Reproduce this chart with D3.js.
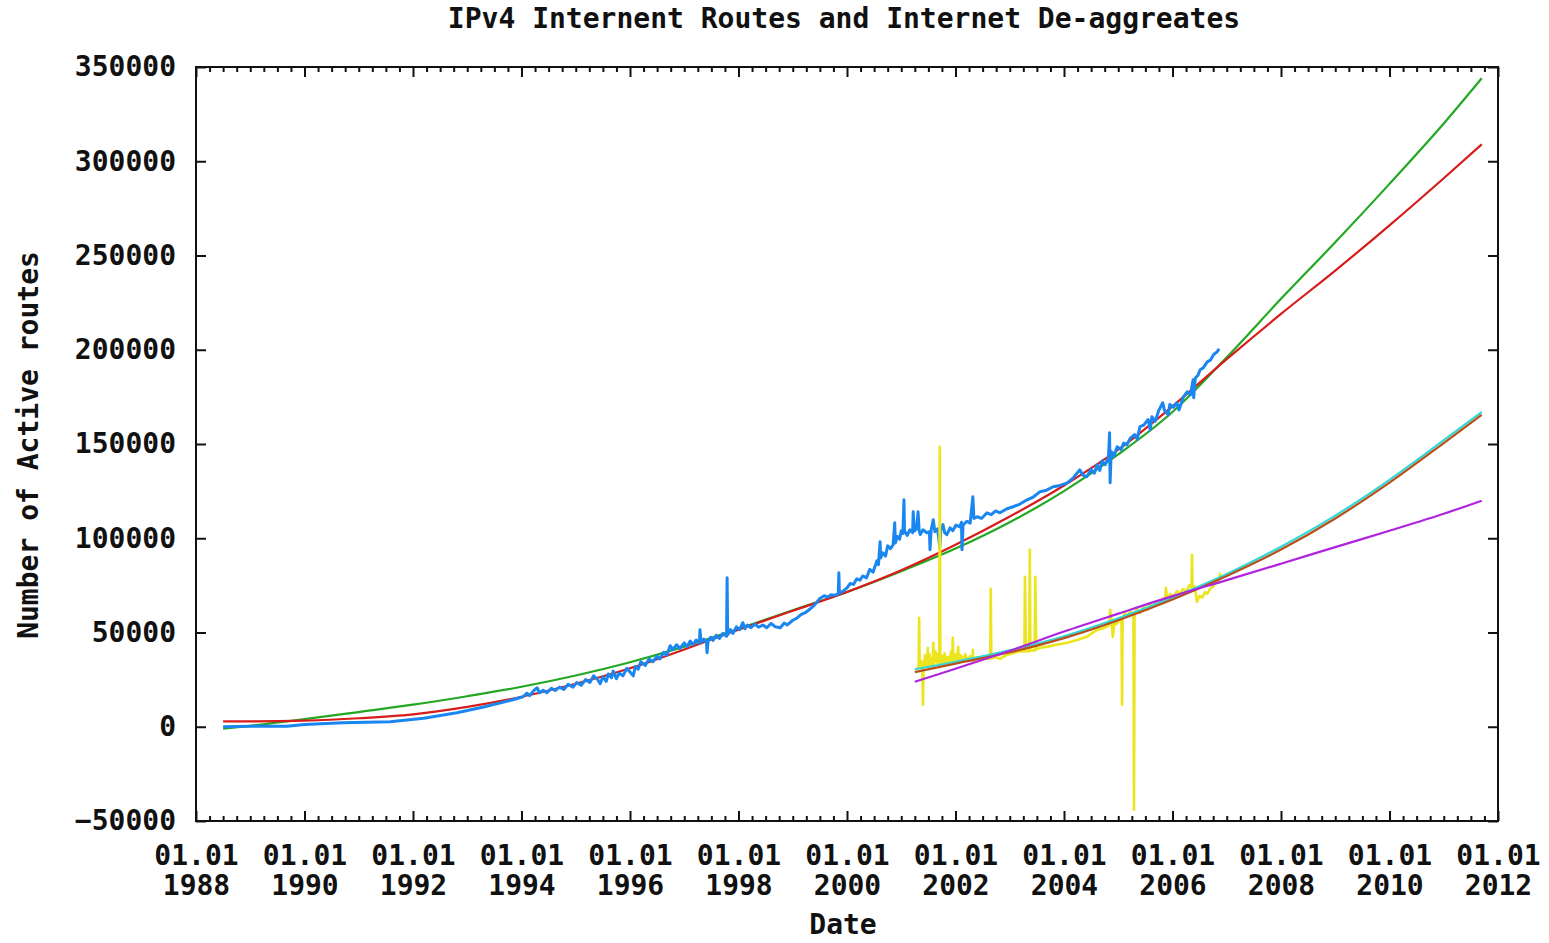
<!DOCTYPE html>
<html>
<head>
<meta charset="utf-8">
<script src="https://cdn.jsdelivr.net/npm/d3@7"></script>
<style>
  body { margin: 0; background: #fff; }
  svg text { font-family: "DejaVu Sans Mono", monospace; font-weight: bold; font-size: 28px; fill: #111; }
</style>
</head>
<body>
<svg id="svg"></svg>
<script>
// tick labels
const yearTicks = [1988, 1990, 1992, 1994, 1996, 1998, 2000, 2002, 2004, 2006, 2008, 2010, 2012];
const valueTicks = [-50000, 0, 50000, 100000, 150000, 200000, 250000, 300000, 350000];

// blue: active routes (year, routes)
const activeRoutes = [
  [1988.50, 0], [1989.00, 200], [1989.68, 300], [1990.00, 1200], [1990.71, 2100],
  [1991.58, 2700], [1992.20, 4500], [1992.81, 7400], [1993.30, 10500], [1993.84, 14300],
  [1994.03, 15900], [1994.10, 17800], [1994.15, 16500], [1994.22, 19000], [1994.29, 20700],
  [1994.33, 18000], [1994.40, 19300], [1994.47, 18000], [1994.55, 20400], [1994.62, 19200],
  [1994.70, 21000], [1994.78, 19800], [1994.86, 22500], [1994.95, 21000], [1995.02, 23500],
  [1995.10, 22000], [1995.18, 25000], [1995.26, 23500], [1995.33, 27000], [1995.40, 25200],
  [1995.45, 22800], [1995.50, 26500], [1995.56, 24000], [1995.60, 28000], [1995.66, 26000],
  [1995.69, 29500], [1995.75, 25500], [1995.80, 28500], [1995.87, 27000], [1995.94, 31000],
  [1996.00, 29000], [1996.06, 27000], [1996.10, 32000], [1996.15, 30500], [1996.20, 34500],
  [1996.28, 32500], [1996.35, 36000], [1996.42, 34500], [1996.50, 37500], [1996.55, 36000],
  [1996.62, 39500], [1996.68, 38000], [1996.74, 43000], [1996.79, 41000], [1996.86, 43500],
  [1996.92, 41500], [1997.00, 44500], [1997.05, 42500], [1997.11, 45500], [1997.16, 43500],
  [1997.22, 46000], [1997.28, 44500], [1997.29, 51500], [1997.31, 44800], [1997.36, 46500],
  [1997.41, 45000], [1997.42, 39300], [1997.44, 45500], [1997.49, 47500], [1997.53, 45800],
  [1997.59, 48500], [1997.65, 46800], [1997.71, 49500], [1997.78, 48000], [1997.79, 79000],
  [1997.80, 48800], [1997.85, 51500], [1997.90, 49500], [1997.96, 53000], [1998.02, 51500],
  [1998.08, 55200], [1998.12, 52000], [1998.16, 54000], [1998.23, 52500], [1998.30, 54500],
  [1998.37, 52800], [1998.45, 54000], [1998.52, 52500], [1998.60, 54800], [1998.68, 53000],
  [1998.77, 52500], [1998.84, 55000], [1998.90, 54000], [1999.00, 56500], [1999.07, 57500],
  [1999.15, 59500], [1999.23, 60500], [1999.32, 62500], [1999.40, 64500], [1999.50, 68000],
  [1999.58, 69500], [1999.65, 68800], [1999.70, 70000], [1999.78, 69800], [1999.84, 70500],
  [1999.85, 81700], [1999.86, 70800], [1999.93, 72000], [2000.00, 73700], [2000.06, 76000],
  [2000.12, 75500], [2000.18, 78500], [2000.24, 77800], [2000.29, 80000], [2000.36, 79000],
  [2000.42, 83500], [2000.48, 82000], [2000.55, 88000], [2000.58, 86000], [2000.61, 98100],
  [2000.62, 89500], [2000.66, 92300], [2000.71, 90500], [2000.75, 96000], [2000.80, 94500],
  [2000.85, 96500], [2000.88, 108200], [2000.89, 97500], [2000.93, 101000], [2000.97, 99500],
  [2001.00, 104000], [2001.03, 102500], [2001.05, 120400], [2001.06, 104000], [2001.11, 101500],
  [2001.16, 104500], [2001.21, 103000], [2001.22, 114100], [2001.24, 103800], [2001.28, 105000],
  [2001.31, 114100], [2001.33, 104000], [2001.35, 102000], [2001.40, 104500], [2001.47, 102900],
  [2001.52, 103500], [2001.53, 93900], [2001.55, 104200], [2001.59, 109800], [2001.62, 103400],
  [2001.67, 105000], [2001.71, 95500], [2001.73, 104500], [2001.77, 107200], [2001.80, 103000],
  [2001.84, 101900], [2001.90, 105500], [2001.95, 104000], [2002.01, 107000], [2002.08, 106000],
  [2002.11, 108500], [2002.12, 93900], [2002.14, 107000], [2002.21, 109000], [2002.27, 108000],
  [2002.32, 122000], [2002.34, 110500], [2002.40, 111400], [2002.48, 110500], [2002.58, 113500],
  [2002.66, 112500], [2002.74, 114500], [2002.82, 113500], [2002.94, 115500], [2003.06, 116700],
  [2003.18, 118000], [2003.32, 120400], [2003.44, 122000], [2003.56, 124700], [2003.68, 125500],
  [2003.80, 127300], [2003.93, 128000], [2004.06, 129400], [2004.17, 132000], [2004.29, 136300],
  [2004.35, 133500], [2004.42, 132600], [2004.50, 136500], [2004.56, 134500], [2004.61, 139000],
  [2004.66, 136000], [2004.70, 141000], [2004.76, 139000], [2004.82, 143000], [2004.84, 156000],
  [2004.85, 129400], [2004.87, 146000], [2004.92, 143500], [2004.98, 148500], [2005.05, 147000],
  [2005.10, 150500], [2005.16, 149500], [2005.22, 153000], [2005.30, 155000], [2005.35, 152500],
  [2005.40, 159200], [2005.47, 160000], [2005.55, 163000], [2005.59, 157600], [2005.62, 164500],
  [2005.68, 162000], [2005.75, 168000], [2005.82, 171900], [2005.85, 168000], [2005.92, 165500],
  [2005.95, 171000], [2006.02, 169500], [2006.08, 171900], [2006.12, 168000], [2006.20, 175000],
  [2006.27, 177700], [2006.33, 176000], [2006.38, 184100], [2006.39, 174500], [2006.42, 185000],
  [2006.47, 186500], [2006.51, 189400], [2006.57, 190500], [2006.64, 193600], [2006.70, 194500],
  [2006.76, 197500], [2006.82, 198900], [2006.86, 200500]
];

// yellow: de-aggregates (year, routes)
const deaggregates = [
  [2001.29, 31800], [2001.32, 31500], [2001.33, 57800], [2001.34, 32000], [2001.37, 35000],
  [2001.39, 31000], [2001.40, 11700], [2001.41, 30500], [2001.44, 38000], [2001.46, 33000],
  [2001.48, 32000], [2001.49, 41900], [2001.50, 31500], [2001.52, 38500], [2001.54, 33000],
  [2001.56, 36500], [2001.58, 32000], [2001.59, 44600], [2001.60, 32500], [2001.63, 40000],
  [2001.66, 34000], [2001.68, 38500], [2001.70, 33000], [2001.71, 148500], [2001.72, 33000],
  [2001.75, 37500], [2001.78, 33500], [2001.80, 39000], [2001.83, 34000], [2001.86, 37000],
  [2001.89, 34500], [2001.92, 40000], [2001.94, 35000], [2001.95, 47200], [2001.96, 34000],
  [2001.99, 38500], [2002.02, 34500], [2002.05, 42400], [2002.06, 34500], [2002.10, 38000],
  [2002.14, 35000], [2002.18, 38500], [2002.22, 35000], [2002.27, 37500], [2002.31, 35000],
  [2002.32, 40800], [2002.33, 35200], [2002.40, 37000], [2002.45, 36000], [2002.52, 37500],
  [2002.58, 36000], [2002.64, 36500], [2002.65, 73200], [2002.66, 36200], [2002.74, 37000],
  [2002.82, 36000], [2002.94, 38000], [2003.06, 39000], [2003.16, 40000], [2003.27, 40000],
  [2003.28, 79600], [2003.30, 40200], [2003.36, 40000], [2003.37, 93900], [2003.38, 40500],
  [2003.46, 40500], [2003.47, 79600], [2003.49, 41000], [2003.56, 41900], [2003.70, 42500],
  [2003.86, 43500], [2004.06, 44600], [2004.24, 46000], [2004.42, 47700], [2004.53, 49900],
  [2004.62, 51500], [2004.70, 52000], [2004.79, 53100], [2004.84, 54000], [2004.85, 62100],
  [2004.88, 54500], [2004.90, 47700], [2004.93, 55500], [2004.97, 54500], [2005.03, 56800],
  [2005.06, 57000], [2005.07, 11700], [2005.08, 57500], [2005.12, 60500], [2005.16, 58400],
  [2005.22, 61000], [2005.28, 59500], [2005.29, -44000], [2005.30, 60000], [2005.35, 62500],
  [2005.40, 60500], [2005.47, 63500], [2005.53, 62000], [2005.58, 65000], [2005.64, 63700],
  [2005.70, 66500], [2005.76, 65000], [2005.82, 68000], [2005.86, 66000], [2005.88, 73700],
  [2005.90, 67400], [2005.96, 70500], [2006.02, 69000], [2006.08, 72000], [2006.14, 70500],
  [2006.19, 73000], [2006.26, 72000], [2006.31, 75000], [2006.35, 74000], [2006.36, 91200],
  [2006.37, 73500], [2006.41, 74500], [2006.45, 66300], [2006.50, 69500], [2006.55, 68500],
  [2006.60, 71500], [2006.64, 70500], [2006.70, 73500], [2006.75, 74500], [2006.80, 77500],
  [2006.85, 76500], [2006.88, 81700]
];

// fitted curves (year, routes)
const fitGreen = [
  [1988.5, -1000], [1989, 500], [1990, 4000], [1991, 7800], [1992, 11700], [1993, 16200],
  [1994, 21200], [1995, 27200], [1996, 34200], [1997, 42500], [1998, 52000], [1999, 61800],
  [2000, 71500], [2001, 82500], [2002, 94500], [2003, 108500], [2004, 125000], [2005, 144500],
  [2006, 167000], [2007, 196000], [2008, 227000], [2009, 257000], [2010, 288000],
  [2011, 320000], [2011.7, 344000]
];
const fitRed = [
  [1988.5, 2800], [1989, 2800], [1990, 3200], [1991, 4500], [1992, 6600], [1993, 10500],
  [1994, 15900], [1995, 22800], [1996, 31000], [1997, 41000], [1998, 51500], [1999, 61500],
  [2000, 71500], [2001, 83000], [2002, 96500], [2003, 111500], [2004, 128000], [2005, 147000],
  [2006, 170000], [2007, 195000], [2008, 219000], [2009, 242000], [2010, 266000],
  [2011, 291000], [2011.7, 309000]
];
const fitCyan = [
  [2001.25, 30500], [2002, 34500], [2003, 40500], [2004, 48000], [2005, 57500], [2006, 68500],
  [2007, 81000], [2008, 95500], [2009, 112000], [2010, 131000], [2011, 152000], [2011.7, 167000]
];
const fitBrown = [
  [2001.25, 29000], [2002, 33500], [2003, 39500], [2004, 47000], [2005, 56500], [2006, 67500],
  [2007, 80000], [2008, 94000], [2009, 110500], [2010, 129500], [2011, 150500], [2011.7, 165500]
];
const fitPurple = [
  [2001.25, 23900], [2002, 30800], [2003, 40300], [2004, 50500], [2005, 60000], [2006, 69300],
  [2007, 77800], [2008, 86500], [2009, 95300], [2010, 104000], [2011, 113000], [2011.7, 119900]
];

const w = 1549;
const h = 943;
const margin = { top: 67, right: 51, bottom: 122, left: 196 };

let svg = d3.select("#svg")
  .attr("width", w)
  .attr("height", h);

const xScale = d3.scaleLinear().domain([1988, 2012]).range([margin.left, w - margin.right]);
const yScale = d3.scaleLinear().domain([-50000, 350000]).range([h - margin.bottom, margin.top]);

// quarterly minor ticks
let minorTicks = [];
for (let y = 1988; y < 2012; y += 0.25) {
  if (y % 2 !== 0) minorTicks.push(y);
}

// minor x ticks, bottom and top
svg.append("g")
  .attr("transform", "translate(0," + (h - margin.bottom) + ")")
  .call(d3.axisBottom(xScale).tickValues(minorTicks).tickSize(-5).tickSizeOuter(0).tickFormat(""));
svg.append("g")
  .attr("transform", "translate(0," + margin.top + ")")
  .call(d3.axisTop(xScale).tickValues(minorTicks).tickSize(-5).tickSizeOuter(0).tickFormat(""));

// major x ticks with two line labels
let xAxis = svg.append("g")
  .attr("class", "x-axis")
  .attr("transform", "translate(0," + (h - margin.bottom) + ")")
  .call(d3.axisBottom(xScale).tickValues(yearTicks).tickSize(-10).tickSizeOuter(0).tickPadding(24));
xAxis.selectAll("text").each(function(d) {
  let t = d3.select(this).text(null);
  t.append("tspan").attr("x", 0).text("01.01");
  t.append("tspan").attr("x", 0).attr("dy", 30).text(d);
});
svg.append("g")
  .attr("transform", "translate(0," + margin.top + ")")
  .call(d3.axisTop(xScale).tickValues(yearTicks).tickSize(-10).tickSizeOuter(0).tickFormat(""));

// y ticks, left with labels, right mirrored
svg.append("g")
  .attr("class", "y-axis")
  .attr("transform", "translate(" + margin.left + ",0)")
  .call(d3.axisLeft(yScale).tickValues(valueTicks).tickSize(-10).tickSizeOuter(0).tickPadding(20).tickFormat(d3.format("d")));
svg.append("g")
  .attr("transform", "translate(" + (w - margin.right) + ",0)")
  .call(d3.axisRight(yScale).tickValues(valueTicks).tickSize(-10).tickSizeOuter(0).tickFormat(""));

svg.selectAll(".domain").remove();
svg.selectAll(".tick line").attr("stroke", "#111").attr("stroke-width", 2);
svg.selectAll(".tick text").attr("fill", "#111").style("font-size", "28px");

// frame
svg.append("rect")
  .attr("x", margin.left)
  .attr("y", margin.top)
  .attr("width", w - margin.left - margin.right)
  .attr("height", h - margin.top - margin.bottom)
  .attr("fill", "none")
  .attr("stroke", "#111")
  .attr("stroke-width", 2);

const smooth = d3.line().x(d => xScale(d[0])).y(d => yScale(d[1])).curve(d3.curveMonotoneX);
const raw = d3.line().x(d => xScale(d[0])).y(d => yScale(d[1]));

function drawLine(data, gen, colour, width) {
  svg.append("path")
    .datum(data)
    .attr("d", gen)
    .attr("fill", "none")
    .attr("stroke", colour)
    .attr("stroke-width", width)
    .attr("stroke-linejoin", "round");
}

drawLine(fitGreen, smooth, "#22a822", 2.2);
drawLine(fitRed, smooth, "#d81c1c", 2.2);
drawLine(activeRoutes, raw, "#1a86f0", 3);
drawLine(deaggregates, raw, "#ece41c", 2.6);
drawLine(fitCyan, smooth, "#30d8d8", 2.2);
drawLine(fitBrown, smooth, "#b8501c", 2.2);
drawLine(fitPurple, smooth, "#b024e0", 2.2);

// title and axis labels
svg.append("text")
  .attr("x", 844)
  .attr("y", 28)
  .attr("text-anchor", "middle")
  .text("IPv4 Internent Routes and Internet De-aggreates");

svg.append("text")
  .attr("x", 843)
  .attr("y", 934)
  .attr("text-anchor", "middle")
  .text("Date");

svg.append("text")
  .attr("transform", "translate(38,445) rotate(-90)")
  .attr("text-anchor", "middle")
  .text("Number of Active routes");
</script>
</body>
</html>
